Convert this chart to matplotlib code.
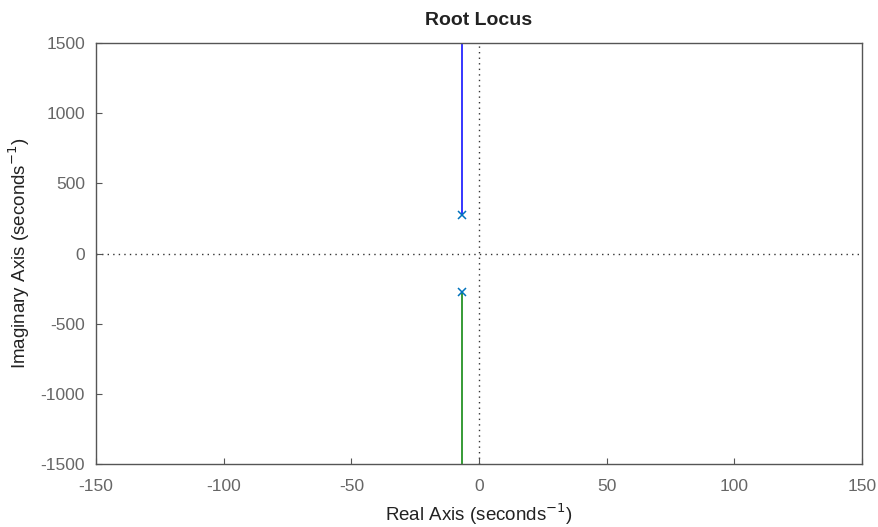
import numpy as np
import matplotlib.pyplot as plt

plt.rcParams['font.family'] = ['Liberation Sans', 'DejaVu Sans']
plt.rcParams['axes.unicode_minus'] = False

# poles of the system (real, imag)
pole_re = -6.5
pole_im = [276, -276]
# branch ends (imag) for each pole
branch_end = [1500, -1500]
branch_colors = ['#0000ff', '#008000']

fig = plt.figure(figsize=(8.79, 5.27), dpi=100)
ax = fig.add_axes([0.1092, 0.1195, 0.8715, 0.7989])

for im, end, c in zip(pole_im, branch_end, branch_colors):
    ax.plot([pole_re, pole_re], [im, end], color=c, lw=1.1)
    ax.plot(pole_re, im, 'x', color='#0072bd', ms=6, mew=1.1)

ax.axhline(0, color='#333333', ls=(0, (1, 3)), lw=1, zorder=0)
ax.axvline(0, color='#333333', ls=(0, (1, 3)), lw=1, zorder=0)

ax.set_xlim(-150, 150)
ax.set_ylim(-1500, 1500)
ax.set_xticks(np.arange(-150, 151, 50))
ax.set_yticks(np.arange(-1500, 1501, 500))
ax.tick_params(direction='in', length=4, colors='#555555', labelcolor='#666666', labelsize=12.5)
ax.tick_params(axis='x', pad=11)
ax.tick_params(axis='y', pad=8)
for s in ax.spines.values():
    s.set_color('#555555')
    s.set_linewidth(1)

ax.set_title('Root Locus', fontsize=14, fontweight='bold', pad=13, color='#222222')
ax.set_xlabel('Real Axis (seconds$^{-1}$)', fontsize=13.5, color='#222222', labelpad=5)
ax.set_ylabel('Imaginary Axis (seconds$^{-1}$)', fontsize=13.5, color='#222222', labelpad=6)

fig.savefig('out.png', dpi=100)
